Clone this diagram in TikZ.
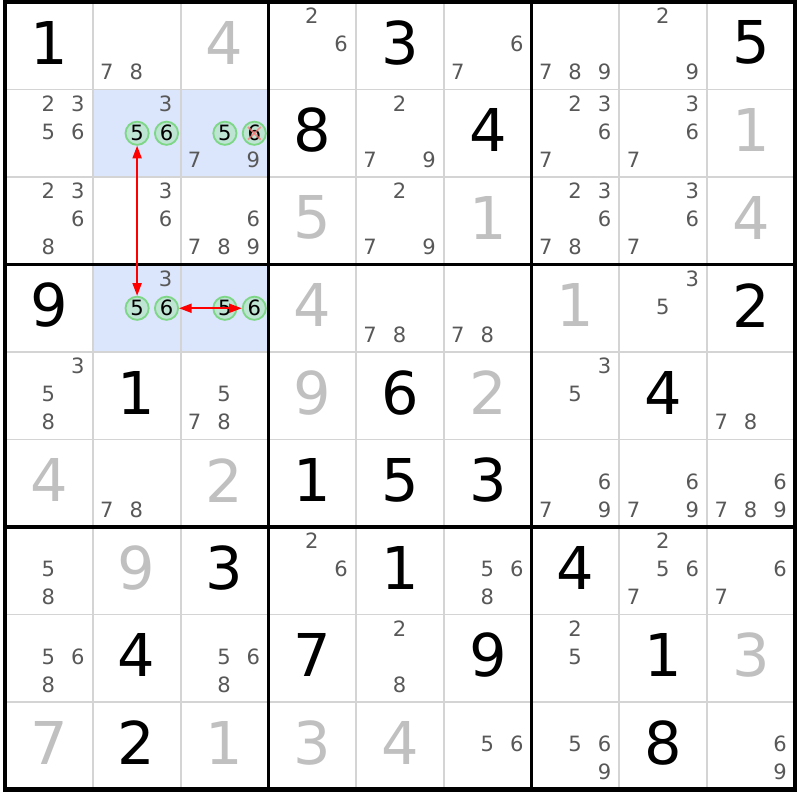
\documentclass[tikz,border=0pt]{standalone}
\usepackage{fontspec}
\setmainfont{DejaVu Sans}
\usetikzlibrary{arrows.meta}
\definecolor{hlblue}{RGB}{219,229,251}
\definecolor{candgray}{RGB}{88,88,88}
\definecolor{solvgray}{RGB}{192,192,192}
\definecolor{gridgray}{RGB}{212,212,212}
\definecolor{ringgreen}{RGB}{125,215,135}
\definecolor{ringfill}{RGB}{190,228,212}
\tikzset{
  cand/.style={text=candgray, inner sep=0pt, font=\fontsize{15}{15}\selectfont},
  given/.style={inner sep=0pt, font=\fontsize{42}{42}\selectfont},
  solved/.style={given, text=solvgray},
  candring/.style={circle, draw=ringgreen, fill=ringfill, line width=1.3pt, inner sep=0pt,
    minimum size=0.58cm, font=\fontsize{15}{15}\selectfont},
  linkarrow/.style={red, line width=1.1pt, {Triangle[length=9pt,width=6.5pt]}-{Triangle[length=9pt,width=6.5pt]}},
  xmark/.style={red!55, opacity=0.7, line width=1.3pt, shorten <=2.5pt, shorten >=2.5pt},
  thinline/.style={gridgray, line width=1.4pt},
  boxline/.style={black, line width=2.2pt}
}
\begin{document}
\begin{tikzpicture}[x=2.1959cm, y=-2.1889cm]
    \useasboundingbox (-0.057,-0.023) rectangle (9.057,9.114);
    \fill[hlblue] (1,1) rectangle (3,2);
    \fill[hlblue] (1,3) rectangle (3,4);
    \foreach \i in {1,2,4,5,7,8} {
      \draw[thinline] (\i,0) -- (\i,9);
      \draw[thinline] (0,\i) -- (9,\i);
    }
    \foreach \i in {3,6} {
      \draw[boxline] (\i,0) -- (\i,9);
      \draw[boxline] (0,\i) -- (9,\i);
    }
    \draw[black, line width=2.9pt] (0,0) rectangle (9,9);
    \foreach \row/\col/\d in {1/1/1,1/5/3,1/9/5,2/4/8,2/6/4,4/1/9,4/9/2,5/2/1,5/5/6,5/8/4,6/4/1,6/5/5,6/6/3,
      7/3/3,7/5/1,7/7/4,8/2/4,8/4/7,8/6/9,8/8/1,9/2/2,9/8/8}
      \node[given] (g\row\col) at (\col-0.5, \row-0.535) {\d};
    \foreach \row/\col/\d in {1/3/4,2/9/1,3/4/5,3/6/1,3/9/4,4/4/4,4/7/1,5/4/9,5/6/2,6/1/4,6/3/2,7/2/9,
      8/9/3,9/1/7,9/3/1,9/4/3,9/5/4}
      \node[solved] (g\row\col) at (\col-0.5, \row-0.535) {\d};
    \foreach \row/\col/\k [evaluate=\k as \m using {mod(\k-1,3)}, evaluate=\k as \n using {div(\k-1,3)}] in {
      1/2/7,1/2/8,1/4/2,1/4/6,1/6/6,1/6/7,1/7/7,1/7/8,1/7/9,1/8/2,1/8/9,
      2/1/2,2/1/3,2/1/5,2/1/6,2/2/3,2/3/7,2/3/9,2/5/2,2/5/7,2/5/9,2/7/2,2/7/3,2/7/6,2/7/7,2/8/3,2/8/6,2/8/7,
      3/1/2,3/1/3,3/1/6,3/1/8,3/2/3,3/2/6,3/3/6,3/3/7,3/3/8,3/3/9,3/5/2,3/5/7,3/5/9,
      3/7/2,3/7/3,3/7/6,3/7/7,3/7/8,3/8/3,3/8/6,3/8/7,
      4/2/3,4/5/7,4/5/8,4/6/7,4/6/8,4/8/3,4/8/5,
      5/1/3,5/1/5,5/1/8,5/3/5,5/3/7,5/3/8,5/7/3,5/7/5,5/9/7,5/9/8,
      6/2/7,6/2/8,6/7/6,6/7/7,6/7/9,6/8/6,6/8/7,6/8/9,6/9/6,6/9/7,6/9/8,6/9/9,
      7/1/5,7/1/8,7/4/2,7/4/6,7/6/5,7/6/6,7/6/8,7/8/2,7/8/5,7/8/6,7/8/7,7/9/6,7/9/7,
      8/1/5,8/1/6,8/1/8,8/3/5,8/3/6,8/3/8,8/5/2,8/5/8,8/7/2,8/7/5,
      9/6/5,9/6/6,9/7/5,9/7/6,9/7/9,9/9/6,9/9/9}
      \node[cand] (c\row\col\k) at ({\col-1+0.495+(\m-1)*0.335}, {\row-1+0.48+(\n-1)*0.32}) {\k};
    \foreach \row/\col/\k [evaluate=\k as \m using {mod(\k-1,3)}] in {2/2/5,2/2/6,2/3/5,2/3/6,4/2/5,4/2/6,4/3/5,4/3/6}
      \node[candring] (c\row\col\k) at ({\col-1+0.505+(\m-1)*0.335}, {\row-0.5}) {\k};
    \draw[xmark] (c236.45) -- (c236.225);
    \draw[xmark] (c236.135) -- (c236.315);
    \draw[linkarrow] (c225) -- (c425);
    \draw[linkarrow] (c426) -- (c436);
  \end{tikzpicture}
\end{document}
